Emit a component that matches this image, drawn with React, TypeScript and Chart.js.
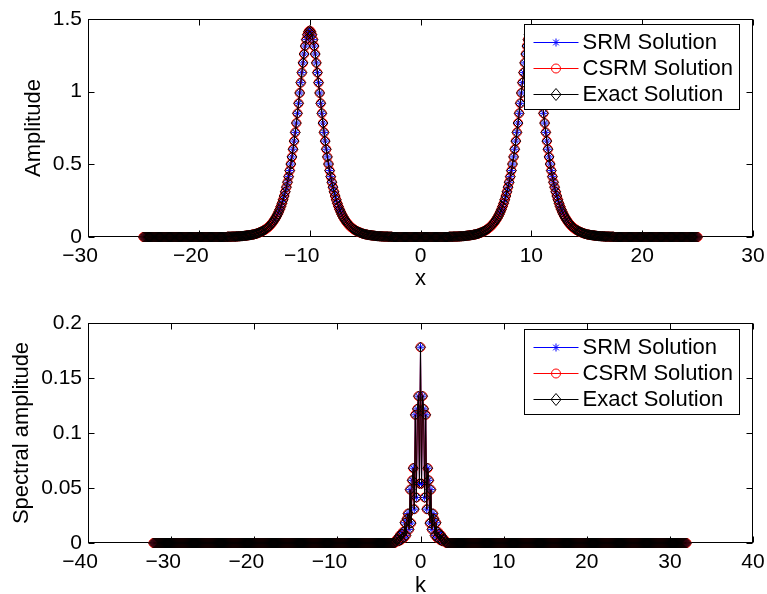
import React, { useEffect, useRef } from 'react';
import { Chart, registerables } from 'chart.js';

Chart.register(...registerables);

const FONT = '"Liberation Sans", Arial, Helvetica, sans-serif';

// ---------- Top panel: amplitude vs x ----------
const xGrid: number[] = [
  -25,-24.9,-24.8,-24.7,-24.6,-24.5,-24.4,-24.3,-24.2,-24.1,
  -24,-23.9,-23.8,-23.7,-23.6,-23.5,-23.4,-23.3,-23.2,-23.1,
  -23,-22.9,-22.8,-22.7,-22.6,-22.5,-22.4,-22.3,-22.2,-22.1,
  -22,-21.9,-21.8,-21.7,-21.6,-21.5,-21.4,-21.3,-21.2,-21.1,
  -21,-20.9,-20.8,-20.7,-20.6,-20.5,-20.4,-20.3,-20.2,-20.1,
  -20,-19.9,-19.8,-19.7,-19.6,-19.5,-19.4,-19.3,-19.2,-19.1,
  -19,-18.9,-18.8,-18.7,-18.6,-18.5,-18.4,-18.3,-18.2,-18.1,
  -18,-17.9,-17.8,-17.7,-17.6,-17.5,-17.4,-17.3,-17.2,-17.1,
  -17,-16.9,-16.8,-16.7,-16.6,-16.5,-16.4,-16.3,-16.2,-16.1,
  -16,-15.9,-15.8,-15.7,-15.6,-15.5,-15.4,-15.3,-15.2,-15.1,
  -15,-14.9,-14.8,-14.7,-14.6,-14.5,-14.4,-14.3,-14.2,-14.1,
  -14,-13.9,-13.8,-13.7,-13.6,-13.5,-13.4,-13.3,-13.2,-13.1,
  -13,-12.9,-12.8,-12.7,-12.6,-12.5,-12.4,-12.3,-12.2,-12.1,
  -12,-11.9,-11.8,-11.7,-11.6,-11.5,-11.4,-11.3,-11.2,-11.1,
  -11,-10.9,-10.8,-10.7,-10.6,-10.5,-10.4,-10.3,-10.2,-10.1,
  -10,-9.9,-9.8,-9.7,-9.6,-9.5,-9.4,-9.3,-9.2,-9.1,
  -9,-8.9,-8.8,-8.7,-8.6,-8.5,-8.4,-8.3,-8.2,-8.1,
  -8,-7.9,-7.8,-7.7,-7.6,-7.5,-7.4,-7.3,-7.2,-7.1,
  -7,-6.9,-6.8,-6.7,-6.6,-6.5,-6.4,-6.3,-6.2,-6.1,
  -6,-5.9,-5.8,-5.7,-5.6,-5.5,-5.4,-5.3,-5.2,-5.1,
  -5,-4.9,-4.8,-4.7,-4.6,-4.5,-4.4,-4.3,-4.2,-4.1,
  -4,-3.9,-3.8,-3.7,-3.6,-3.5,-3.4,-3.3,-3.2,-3.1,
  -3,-2.9,-2.8,-2.7,-2.6,-2.5,-2.4,-2.3,-2.2,-2.1,
  -2,-1.9,-1.8,-1.7,-1.6,-1.5,-1.4,-1.3,-1.2,-1.1,
  -1,-0.9,-0.8,-0.7,-0.6,-0.5,-0.4,-0.3,-0.2,-0.1,
  0,0.1,0.2,0.3,0.4,0.5,0.6,0.7,0.8,0.9,
  1,1.1,1.2,1.3,1.4,1.5,1.6,1.7,1.8,1.9,
  2,2.1,2.2,2.3,2.4,2.5,2.6,2.7,2.8,2.9,
  3,3.1,3.2,3.3,3.4,3.5,3.6,3.7,3.8,3.9,
  4,4.1,4.2,4.3,4.4,4.5,4.6,4.7,4.8,4.9,
  5,5.1,5.2,5.3,5.4,5.5,5.6,5.7,5.8,5.9,
  6,6.1,6.2,6.3,6.4,6.5,6.6,6.7,6.8,6.9,
  7,7.1,7.2,7.3,7.4,7.5,7.6,7.7,7.8,7.9,
  8,8.1,8.2,8.3,8.4,8.5,8.6,8.7,8.8,8.9,
  9,9.1,9.2,9.3,9.4,9.5,9.6,9.7,9.8,9.9,
  10,10.1,10.2,10.3,10.4,10.5,10.6,10.7,10.8,10.9,
  11,11.1,11.2,11.3,11.4,11.5,11.6,11.7,11.8,11.9,
  12,12.1,12.2,12.3,12.4,12.5,12.6,12.7,12.8,12.9,
  13,13.1,13.2,13.3,13.4,13.5,13.6,13.7,13.8,13.9,
  14,14.1,14.2,14.3,14.4,14.5,14.6,14.7,14.8,14.9,
  15,15.1,15.2,15.3,15.4,15.5,15.6,15.7,15.8,15.9,
  16,16.1,16.2,16.3,16.4,16.5,16.6,16.7,16.8,16.9,
  17,17.1,17.2,17.3,17.4,17.5,17.6,17.7,17.8,17.9,
  18,18.1,18.2,18.3,18.4,18.5,18.6,18.7,18.8,18.9,
  19,19.1,19.2,19.3,19.4,19.5,19.6,19.7,19.8,19.9,
  20,20.1,20.2,20.3,20.4,20.5,20.6,20.7,20.8,20.9,
  21,21.1,21.2,21.3,21.4,21.5,21.6,21.7,21.8,21.9,
  22,22.1,22.2,22.3,22.4,22.5,22.6,22.7,22.8,22.9,
  23,23.1,23.2,23.3,23.4,23.5,23.6,23.7,23.8,23.9,
  24,24.1,24.2,24.3,24.4,24.5,24.6,24.7,24.8,24.9,
  25,
];

const exactAmplitude: number[] = [
  /* -25 */ 0,0,0,0,0,0,0,0,0,0,
  /* -24 */ 0,0,0,0,0,0,0,0,0,0,
  /* -23 */ 0,0,0,0,0,0,0,0,0,0,
  /* -22 */ 0,0,0,0,0,0,0,0,0,0,
  /* -21 */ 0,0,0,0,0,0,0,0,0,0,
  /* -20 */ 0,0,0,0,0,0,0,0,0,0,
  /* -19 */ 0,0,0,0,0,0,0,0,0,0,
  /* -18 */ 0,0,0,0,0,0,0.002,0.002,0.002,0.002,
  /* -17 */ 0.003,0.003,0.003,0.003,0.004,0.004,0.005,0.005,0.006,0.006,
  /* -16 */ 0.007,0.008,0.009,0.010,0.011,0.012,0.013,0.014,0.016,0.017,
  /* -15 */ 0.019,0.021,0.023,0.026,0.029,0.032,0.035,0.039,0.043,0.047,
  /* -14 */ 0.052,0.057,0.064,0.070,0.078,0.086,0.095,0.105,0.116,0.128,
  /* -13 */ 0.141,0.156,0.172,0.190,0.210,0.232,0.256,0.282,0.311,0.343,
  /* -12 */ 0.377,0.415,0.457,0.502,0.551,0.604,0.660,0.720,0.784,0.851,
  /* -11 */ 0.920,0.991,1.062,1.131,1.198,1.259,1.314,1.358,1.392,1.413,
  /* -10 */ 1.420,1.413,1.392,1.358,1.314,1.259,1.198,1.131,1.062,0.991,
  /*  -9 */ 0.920,0.851,0.784,0.720,0.660,0.604,0.551,0.502,0.457,0.415,
  /*  -8 */ 0.377,0.343,0.311,0.282,0.256,0.232,0.210,0.190,0.172,0.156,
  /*  -7 */ 0.141,0.128,0.116,0.105,0.095,0.086,0.078,0.070,0.064,0.057,
  /*  -6 */ 0.052,0.047,0.043,0.039,0.035,0.032,0.029,0.026,0.023,0.021,
  /*  -5 */ 0.019,0.017,0.016,0.014,0.013,0.012,0.011,0.010,0.009,0.008,
  /*  -4 */ 0.007,0.006,0.006,0.005,0.005,0.004,0.004,0.003,0.003,0.003,
  /*  -3 */ 0.003,0.002,0.002,0.002,0.002,0,0,0,0,0,
  /*  -2 */ 0,0,0,0,0,0,0,0,0,0,
  /*  -1 */ 0,0,0,0,0,0,0,0,0,0,
  /*   0 */ 0,0,0,0,0,0,0,0,0,0,
  /*   1 */ 0,0,0,0,0,0,0,0,0,0,
  /*   2 */ 0,0,0,0,0,0,0.002,0.002,0.002,0.002,
  /*   3 */ 0.003,0.003,0.003,0.003,0.004,0.004,0.005,0.005,0.006,0.006,
  /*   4 */ 0.007,0.008,0.009,0.010,0.011,0.012,0.013,0.014,0.016,0.017,
  /*   5 */ 0.019,0.021,0.023,0.026,0.029,0.032,0.035,0.039,0.043,0.047,
  /*   6 */ 0.052,0.057,0.064,0.070,0.078,0.086,0.095,0.105,0.116,0.128,
  /*   7 */ 0.141,0.156,0.172,0.190,0.210,0.232,0.256,0.282,0.311,0.343,
  /*   8 */ 0.377,0.415,0.457,0.502,0.551,0.604,0.660,0.720,0.784,0.851,
  /*   9 */ 0.920,0.991,1.062,1.131,1.198,1.259,1.314,1.358,1.392,1.413,
  /*  10 */ 1.420,1.413,1.392,1.358,1.314,1.259,1.198,1.131,1.062,0.991,
  /*  11 */ 0.920,0.851,0.784,0.720,0.660,0.604,0.551,0.502,0.457,0.415,
  /*  12 */ 0.377,0.343,0.311,0.282,0.256,0.232,0.210,0.190,0.172,0.156,
  /*  13 */ 0.141,0.128,0.116,0.105,0.095,0.086,0.078,0.070,0.064,0.057,
  /*  14 */ 0.052,0.047,0.043,0.039,0.035,0.032,0.029,0.026,0.023,0.021,
  /*  15 */ 0.019,0.017,0.016,0.014,0.013,0.012,0.011,0.010,0.009,0.008,
  /*  16 */ 0.007,0.006,0.006,0.005,0.005,0.004,0.004,0.003,0.003,0.003,
  /*  17 */ 0.003,0.002,0.002,0.002,0.002,0,0,0,0,0,
  /*  18 */ 0,0,0,0,0,0,0,0,0,0,
  /*  19 */ 0,0,0,0,0,0,0,0,0,0,
  /*  20 */ 0,0,0,0,0,0,0,0,0,0,
  /*  21 */ 0,0,0,0,0,0,0,0,0,0,
  /*  22 */ 0,0,0,0,0,0,0,0,0,0,
  /*  23 */ 0,0,0,0,0,0,0,0,0,0,
  /*  24 */ 0,0,0,0,0,0,0,0,0,0,
  /*  25 */ 0,
];
// SRM and CSRM solutions coincide with the exact one at this scale
const srmAmplitude: number[] = exactAmplitude;
const csrmAmplitude: number[] = exactAmplitude;

// ---------- Bottom panel: spectral amplitude vs k ----------
const kGrid: number[] = [
  -32.125,
  /* -32 */ -32,-31.875,-31.75,-31.625,-31.5,-31.375,-31.25,-31.125,
  /* -31 */ -31,-30.875,-30.75,-30.625,-30.5,-30.375,-30.25,-30.125,
  /* -30 */ -30,-29.875,-29.75,-29.625,-29.5,-29.375,-29.25,-29.125,
  /* -29 */ -29,-28.875,-28.75,-28.625,-28.5,-28.375,-28.25,-28.125,
  /* -28 */ -28,-27.875,-27.75,-27.625,-27.5,-27.375,-27.25,-27.125,
  /* -27 */ -27,-26.875,-26.75,-26.625,-26.5,-26.375,-26.25,-26.125,
  /* -26 */ -26,-25.875,-25.75,-25.625,-25.5,-25.375,-25.25,-25.125,
  /* -25 */ -25,-24.875,-24.75,-24.625,-24.5,-24.375,-24.25,-24.125,
  /* -24 */ -24,-23.875,-23.75,-23.625,-23.5,-23.375,-23.25,-23.125,
  /* -23 */ -23,-22.875,-22.75,-22.625,-22.5,-22.375,-22.25,-22.125,
  /* -22 */ -22,-21.875,-21.75,-21.625,-21.5,-21.375,-21.25,-21.125,
  /* -21 */ -21,-20.875,-20.75,-20.625,-20.5,-20.375,-20.25,-20.125,
  /* -20 */ -20,-19.875,-19.75,-19.625,-19.5,-19.375,-19.25,-19.125,
  /* -19 */ -19,-18.875,-18.75,-18.625,-18.5,-18.375,-18.25,-18.125,
  /* -18 */ -18,-17.875,-17.75,-17.625,-17.5,-17.375,-17.25,-17.125,
  /* -17 */ -17,-16.875,-16.75,-16.625,-16.5,-16.375,-16.25,-16.125,
  /* -16 */ -16,-15.875,-15.75,-15.625,-15.5,-15.375,-15.25,-15.125,
  /* -15 */ -15,-14.875,-14.75,-14.625,-14.5,-14.375,-14.25,-14.125,
  /* -14 */ -14,-13.875,-13.75,-13.625,-13.5,-13.375,-13.25,-13.125,
  /* -13 */ -13,-12.875,-12.75,-12.625,-12.5,-12.375,-12.25,-12.125,
  /* -12 */ -12,-11.875,-11.75,-11.625,-11.5,-11.375,-11.25,-11.125,
  /* -11 */ -11,-10.875,-10.75,-10.625,-10.5,-10.375,-10.25,-10.125,
  /* -10 */ -10,-9.875,-9.75,-9.625,-9.5,-9.375,-9.25,-9.125,
  /*  -9 */ -9,-8.875,-8.75,-8.625,-8.5,-8.375,-8.25,-8.125,
  /*  -8 */ -8,-7.875,-7.75,-7.625,-7.5,-7.375,-7.25,-7.125,
  /*  -7 */ -7,-6.875,-6.75,-6.625,-6.5,-6.375,-6.25,-6.125,
  /*  -6 */ -6,-5.875,-5.75,-5.625,-5.5,-5.375,-5.25,-5.125,
  /*  -5 */ -5,-4.875,-4.75,-4.625,-4.5,-4.375,-4.25,-4.125,
  /*  -4 */ -4,-3.875,-3.75,-3.625,-3.5,-3.375,-3.25,-3.125,
  /*  -3 */ -3,-2.875,-2.75,-2.625,-2.5,-2.375,-2.25,-2.125,
  /*  -2 */ -2,-1.875,-1.75,-1.625,-1.5,-1.375,-1.25,-1.125,
  /*  -1 */ -1,-0.875,-0.75,-0.625,-0.5,-0.375,-0.25,-0.125,
  /*   0 */ 0,0.125,0.25,0.375,0.5,0.625,0.75,0.875,
  /*   1 */ 1,1.125,1.25,1.375,1.5,1.625,1.75,1.875,
  /*   2 */ 2,2.125,2.25,2.375,2.5,2.625,2.75,2.875,
  /*   3 */ 3,3.125,3.25,3.375,3.5,3.625,3.75,3.875,
  /*   4 */ 4,4.125,4.25,4.375,4.5,4.625,4.75,4.875,
  /*   5 */ 5,5.125,5.25,5.375,5.5,5.625,5.75,5.875,
  /*   6 */ 6,6.125,6.25,6.375,6.5,6.625,6.75,6.875,
  /*   7 */ 7,7.125,7.25,7.375,7.5,7.625,7.75,7.875,
  /*   8 */ 8,8.125,8.25,8.375,8.5,8.625,8.75,8.875,
  /*   9 */ 9,9.125,9.25,9.375,9.5,9.625,9.75,9.875,
  /*  10 */ 10,10.125,10.25,10.375,10.5,10.625,10.75,10.875,
  /*  11 */ 11,11.125,11.25,11.375,11.5,11.625,11.75,11.875,
  /*  12 */ 12,12.125,12.25,12.375,12.5,12.625,12.75,12.875,
  /*  13 */ 13,13.125,13.25,13.375,13.5,13.625,13.75,13.875,
  /*  14 */ 14,14.125,14.25,14.375,14.5,14.625,14.75,14.875,
  /*  15 */ 15,15.125,15.25,15.375,15.5,15.625,15.75,15.875,
  /*  16 */ 16,16.125,16.25,16.375,16.5,16.625,16.75,16.875,
  /*  17 */ 17,17.125,17.25,17.375,17.5,17.625,17.75,17.875,
  /*  18 */ 18,18.125,18.25,18.375,18.5,18.625,18.75,18.875,
  /*  19 */ 19,19.125,19.25,19.375,19.5,19.625,19.75,19.875,
  /*  20 */ 20,20.125,20.25,20.375,20.5,20.625,20.75,20.875,
  /*  21 */ 21,21.125,21.25,21.375,21.5,21.625,21.75,21.875,
  /*  22 */ 22,22.125,22.25,22.375,22.5,22.625,22.75,22.875,
  /*  23 */ 23,23.125,23.25,23.375,23.5,23.625,23.75,23.875,
  /*  24 */ 24,24.125,24.25,24.375,24.5,24.625,24.75,24.875,
  /*  25 */ 25,25.125,25.25,25.375,25.5,25.625,25.75,25.875,
  /*  26 */ 26,26.125,26.25,26.375,26.5,26.625,26.75,26.875,
  /*  27 */ 27,27.125,27.25,27.375,27.5,27.625,27.75,27.875,
  /*  28 */ 28,28.125,28.25,28.375,28.5,28.625,28.75,28.875,
  /*  29 */ 29,29.125,29.25,29.375,29.5,29.625,29.75,29.875,
  /*  30 */ 30,30.125,30.25,30.375,30.5,30.625,30.75,30.875,
  /*  31 */ 31,31.125,31.25,31.375,31.5,31.625,31.75,31.875,
  32,
];

const exactSpectrum: number[] = [
  0,
  /* -32 */ 0,0,0,0,0,0,0,0,
  /* -31 */ 0,0,0,0,0,0,0,0,
  /* -30 */ 0,0,0,0,0,0,0,0,
  /* -29 */ 0,0,0,0,0,0,0,0,
  /* -28 */ 0,0,0,0,0,0,0,0,
  /* -27 */ 0,0,0,0,0,0,0,0,
  /* -26 */ 0,0,0,0,0,0,0,0,
  /* -25 */ 0,0,0,0,0,0,0,0,
  /* -24 */ 0,0,0,0,0,0,0,0,
  /* -23 */ 0,0,0,0,0,0,0,0,
  /* -22 */ 0,0,0,0,0,0,0,0,
  /* -21 */ 0,0,0,0,0,0,0,0,
  /* -20 */ 0,0,0,0,0,0,0,0,
  /* -19 */ 0,0,0,0,0,0,0,0,
  /* -18 */ 0,0,0,0,0,0,0,0,
  /* -17 */ 0,0,0,0,0,0,0,0,
  /* -16 */ 0,0,0,0,0,0,0,0,
  /* -15 */ 0,0,0,0,0,0,0,0,
  /* -14 */ 0,0,0,0,0,0,0,0,
  /* -13 */ 0,0,0,0,0,0,0,0,
  /* -12 */ 0,0,0,0,0,0,0,0,
  /* -11 */ 0,0,0,0,0,0,0,0,
  /* -10 */ 0,0,0,0,0,0,0,0,
  /*  -9 */ 0,0,0,0,0,0,0,0,
  /*  -8 */ 0,0,0,0,0,0,0,0,
  /*  -7 */ 0,0,0,0,0,0,0,0,
  /*  -6 */ 0,0,0,0,0,0,0,0,
  /*  -5 */ 0,0,0,0,0,0,0,0,
  /*  -4 */ 0,0,0,0,0,0,0,0,
  /*  -3 */ 0.001,0.0031,0.0037,0.0017,0.0069,0.0026,0.0082,0.01,
  /*  -2 */ 0.0047,0.0184,0.0069,0.022,0.0267,0.0124,0.0485,0.0181,
  /*  -1 */ 0.057,0.068,0.0308,0.1165,0.0414,0.1219,0.1335,0.054,
  /*   0 */ 0.178,0.054,0.1335,0.1219,0.0414,0.1165,0.0308,0.068,
  /*   1 */ 0.057,0.0181,0.0485,0.0124,0.0267,0.022,0.0069,0.0184,
  /*   2 */ 0.0047,0.01,0.0082,0.0026,0.0069,0.0017,0.0037,0.0031,
  /*   3 */ 0.001,0,0,0,0,0,0,0,
  /*   4 */ 0,0,0,0,0,0,0,0,
  /*   5 */ 0,0,0,0,0,0,0,0,
  /*   6 */ 0,0,0,0,0,0,0,0,
  /*   7 */ 0,0,0,0,0,0,0,0,
  /*   8 */ 0,0,0,0,0,0,0,0,
  /*   9 */ 0,0,0,0,0,0,0,0,
  /*  10 */ 0,0,0,0,0,0,0,0,
  /*  11 */ 0,0,0,0,0,0,0,0,
  /*  12 */ 0,0,0,0,0,0,0,0,
  /*  13 */ 0,0,0,0,0,0,0,0,
  /*  14 */ 0,0,0,0,0,0,0,0,
  /*  15 */ 0,0,0,0,0,0,0,0,
  /*  16 */ 0,0,0,0,0,0,0,0,
  /*  17 */ 0,0,0,0,0,0,0,0,
  /*  18 */ 0,0,0,0,0,0,0,0,
  /*  19 */ 0,0,0,0,0,0,0,0,
  /*  20 */ 0,0,0,0,0,0,0,0,
  /*  21 */ 0,0,0,0,0,0,0,0,
  /*  22 */ 0,0,0,0,0,0,0,0,
  /*  23 */ 0,0,0,0,0,0,0,0,
  /*  24 */ 0,0,0,0,0,0,0,0,
  /*  25 */ 0,0,0,0,0,0,0,0,
  /*  26 */ 0,0,0,0,0,0,0,0,
  /*  27 */ 0,0,0,0,0,0,0,0,
  /*  28 */ 0,0,0,0,0,0,0,0,
  /*  29 */ 0,0,0,0,0,0,0,0,
  /*  30 */ 0,0,0,0,0,0,0,0,
  /*  31 */ 0,0,0,0,0,0,0,0,
  0,
];
const srmSpectrum: number[] = exactSpectrum;
const csrmSpectrum: number[] = exactSpectrum;

// ---------- labels / ticks ----------
const seriesNames = ['SRM Solution', 'CSRM Solution', 'Exact Solution'];
const xTicksTop = [-30, -20, -10, 0, 10, 20, 30];
const yTicksTop = [0, 0.5, 1, 1.5];
const kTicks = [-40, -30, -20, -10, 0, 10, 20, 30, 40];
const yTicksBottom = [0, 0.05, 0.1, 0.15, 0.2];

const seriesStyles = [
  { color: '#0000ff', shape: 'star', radius: 4 },
  { color: '#ff0000', shape: 'circle', radius: 4.5 },
  { color: '#000000', shape: 'rectRot', radius: 5 },
];

function fmtX(v: number): string {
  if (v < 0) return '\u2212' + Math.abs(v) + '  \u2009';
  return String(v);
}

function drawMarker(ctx: CanvasRenderingContext2D, shape: string, x: number, y: number, r: number, color: string) {
  ctx.save();
  ctx.strokeStyle = color;
  ctx.lineWidth = 1;
  ctx.beginPath();
  if (shape === 'circle') {
    ctx.arc(x, y, r, 0, Math.PI * 2);
  } else if (shape === 'rectRot') {
    ctx.moveTo(x - r, y);
    ctx.lineTo(x, y - r * 1.2);
    ctx.lineTo(x + r, y);
    ctx.lineTo(x, y + r * 1.2);
    ctx.closePath();
  } else {
    ctx.moveTo(x - r, y); ctx.lineTo(x + r, y);
    ctx.moveTo(x, y - r); ctx.lineTo(x, y + r);
    const d = r * Math.SQRT1_2;
    ctx.moveTo(x - d, y - d); ctx.lineTo(x + d, y + d);
    ctx.moveTo(x - d, y + d); ctx.lineTo(x + d, y - d);
  }
  ctx.stroke();
  ctx.restore();
}

type PanelSpec = {
  xs: number[];
  srm: number[];
  csrm: number[];
  exact: number[];
  xMin: number; xMax: number; xTicks: number[];
  yMin: number; yMax: number; yTicks: number[];
  xTitle: string; yTitle: string;
  padTop: number;
  xAxisHeight: number;
  xTitlePadBottom: number;
  yTitlePadTop: number;
  legendOffset: number;
};

function makeChart(canvas: HTMLCanvasElement, p: PanelSpec): Chart {
  const seriesData = [p.srm, p.csrm, p.exact];
  const datasets = [2, 1, 0].map((si) => {
    const st = seriesStyles[si];
    return {
      label: seriesNames[si],
      data: p.xs.map((x, i) => ({ x, y: seriesData[si][i] })),
      showLine: true,
      borderColor: st.color,
      borderWidth: 1,
      pointStyle: st.shape,
      pointRadius: st.radius,
      pointBorderColor: st.color,
      pointBackgroundColor: 'rgba(0,0,0,0)',
      pointBorderWidth: 1,
      tension: 0,
      clip: false,
    };
  });

  const boxPlugin = {
    id: 'matlabBox',
    beforeDatasetsDraw(chart: any) {
      const { ctx, chartArea: a, scales } = chart;
      const L = Math.floor(a.left) + 0.5;
      const R = Math.floor(a.right) - 0.5;
      const T = Math.floor(a.top) + 0.5;
      const B = Math.floor(a.bottom) - 0.5;
      ctx.save();
      ctx.strokeStyle = '#000';
      ctx.lineWidth = 1;
      ctx.strokeRect(L, T, R - L, B - T);
      ctx.beginPath();
      const tl = 6;
      for (const v of p.xTicks) {
        const px = Math.round(scales.x.getPixelForValue(v)) + 0.5;
        ctx.moveTo(px, B); ctx.lineTo(px, B - tl);
        ctx.moveTo(px, T); ctx.lineTo(px, T + tl);
      }
      for (const v of p.yTicks) {
        const py = Math.round(scales.y.getPixelForValue(v)) + 0.5;
        ctx.moveTo(L, py); ctx.lineTo(L + tl, py);
        ctx.moveTo(R, py); ctx.lineTo(R - tl, py);
      }
      ctx.stroke();
      ctx.restore();
    },
  };

  const legendPlugin = {
    id: 'matlabLegend',
    afterDraw(chart: any) {
      const { ctx, chartArea: a } = chart;
      const w = 215, h = 85;
      const x0 = Math.floor(a.right - 14 - w) + 0.5;
      const y0 = Math.floor(a.top + p.legendOffset) + 0.5;
      ctx.save();
      ctx.fillStyle = '#fff';
      ctx.fillRect(x0, y0, w, h);
      ctx.strokeStyle = '#000';
      ctx.lineWidth = 1;
      ctx.strokeRect(x0, y0, w, h);
      ctx.font = `22px ${FONT}`;
      ctx.textBaseline = 'middle';
      ctx.textAlign = 'left';
      for (let i = 0; i < 3; i++) {
        const st = seriesStyles[i];
        const ry = y0 + 17 + i * 26;
        ctx.strokeStyle = st.color;
        ctx.beginPath();
        ctx.moveTo(x0 + 9, Math.round(ry) + 0.5);
        ctx.lineTo(x0 + 54, Math.round(ry) + 0.5);
        ctx.stroke();
        drawMarker(ctx, st.shape, x0 + 31.5, Math.round(ry) + 0.5, st.radius, st.color);
        ctx.fillStyle = '#000';
        ctx.fillText(seriesNames[i], x0 + 58, ry + 1);
      }
      ctx.restore();
    },
  };

  return new Chart(canvas, {
    type: 'scatter',
    data: { datasets: datasets as any },
    options: {
      responsive: false,
      animation: false,
      devicePixelRatio: 1,
      events: [],
      layout: { padding: { left: 0, right: 14, top: p.padTop, bottom: 0 } },
      plugins: { legend: { display: false }, tooltip: { enabled: false } },
      scales: {
        x: {
          type: 'linear',
          min: p.xMin,
          max: p.xMax,
          afterBuildTicks: (s: any) => { s.ticks = p.xTicks.map((v) => ({ value: v })); },
          afterFit: (s: any) => { s.height = p.xAxisHeight; s.paddingLeft = 0; s.paddingRight = 0; },
          ticks: {
            autoSkip: false,
            maxRotation: 0,
            minRotation: 0,
            padding: 7,
            color: '#000',
            font: { family: FONT, size: 21 },
            callback: (v: any) => fmtX(Number(v)),
          },
          grid: { display: false, drawTicks: false },
          border: { display: false },
          title: {
            display: true,
            text: p.xTitle,
            color: '#000',
            font: { family: FONT, size: 22, lineHeight: 1 },
            padding: { top: 0, bottom: p.xTitlePadBottom },
          },
        },
        y: {
          type: 'linear',
          min: p.yMin,
          max: p.yMax,
          afterBuildTicks: (s: any) => { s.ticks = p.yTicks.map((v) => ({ value: v })); },
          afterFit: (s: any) => { s.width = 88; s.paddingTop = 0; s.paddingBottom = 0; },
          ticks: {
            autoSkip: false,
            padding: 6,
            color: '#000',
            font: { family: FONT, size: 21 },
            callback: (v: any) => String(Number(v)),
          },
          grid: { display: false, drawTicks: false },
          border: { display: false },
          title: {
            display: true,
            text: p.yTitle,
            color: '#000',
            font: { family: FONT, size: 22, lineHeight: 1 },
            padding: { top: p.yTitlePadTop, bottom: 0 },
          },
        },
      },
    } as any,
    plugins: [boxPlugin, legendPlugin],
  });
}

export default function App() {
  const topRef = useRef<HTMLCanvasElement>(null);
  const botRef = useRef<HTMLCanvasElement>(null);

  useEffect(() => {
    const c1 = makeChart(topRef.current!, {
      xs: xGrid, srm: srmAmplitude, csrm: csrmAmplitude, exact: exactAmplitude,
      xMin: -30, xMax: 30, xTicks: xTicksTop,
      yMin: 0, yMax: 1.5, yTicks: yTicksTop,
      xTitle: 'x', yTitle: 'Amplitude',
      padTop: 19, xAxisHeight: 63, xTitlePadBottom: 10, yTitlePadTop: 23,
      legendOffset: 5,
    });
    const c2 = makeChart(botRef.current!, {
      xs: kGrid, srm: srmSpectrum, csrm: csrmSpectrum, exact: exactSpectrum,
      xMin: -40, xMax: 40, xTicks: kTicks,
      yMin: 0, yMax: 0.2, yTicks: yTicksBottom,
      xTitle: 'k', yTitle: 'Spectral amplitude',
      padTop: 23, xAxisHeight: 51, xTitlePadBottom: -3, yTitlePadTop: 10.5,
      legendOffset: 6,
    });
    return () => { c1.destroy(); c2.destroy(); };
  }, []);

  return (
    <div style={{ position: 'absolute', left: 0, top: 0, width: 767, height: 594, background: '#fff' }}>
      <canvas ref={topRef} width={767} height={300} style={{ position: 'absolute', left: 0, top: 0 }} />
      <canvas ref={botRef} width={767} height={294} style={{ position: 'absolute', left: 0, top: 300 }} />
    </div>
  );
}
